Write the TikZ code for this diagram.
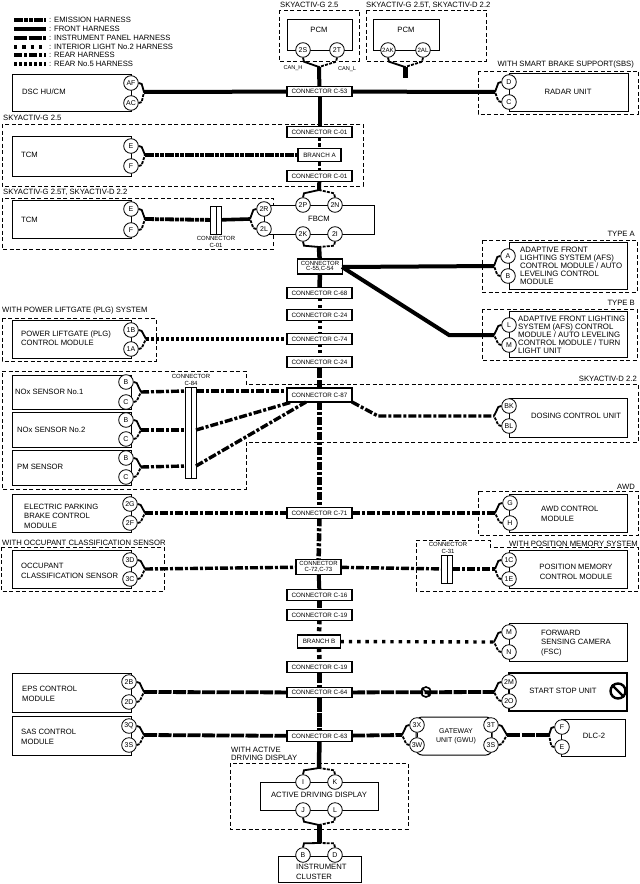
\documentclass[tikz,border=0pt]{standalone}
\usepackage{fontspec}
\setmainfont{Liberation Sans}
\usetikzlibrary{calc}
\newcommand\txtA{\fontsize{7.7}{9.5}\selectfont}
\newcommand\txtB{\fontsize{7.85}{8}\selectfont}
\newcommand\txtC{\fontsize{6.3}{7}\selectfont}
\newcommand\txtP{\fontsize{7}{7}\selectfont}
\newcommand\txtQ{\fontsize{6.2}{7}\selectfont}
\tikzset{
 x=1bp,y=-1bp,
 comp/.style={draw,line width=1bp,fill=white,inner sep=0pt,outer sep=0pt,anchor=north west},
 thickcomp/.style={comp,line width=2.4bp},
 pinnode/.style={circle,draw,line width=.8bp,fill=white,minimum size=14.6bp,inner sep=0pt,font=\txtP},
 smallpin/.style={pinnode,font=\txtQ},
 conn/.style={draw,line width=1.1bp,fill=white,inner sep=0pt,outer sep=0pt,minimum width=65bp,minimum height=10.5bp,font=\txtC,align=center},
 conntwo/.style={conn,minimum width=45bp,minimum height=15bp,font=\fontsize{6}{7}\selectfont},
 branchbox/.style={conn,minimum width=43bp,minimum height=13bp},
 lbl/.style={anchor=west,inner sep=0pt,font=\txtA,align=left},
 clbl/.style={inner sep=0pt,font=\txtA,align=center},
 rlbl/.style={anchor=east,inner sep=0pt,font=\txtA},
 tiny/.style={inner sep=0pt,font=\fontsize{6}{7}\selectfont,align=center},
 optbox/.style={draw,dashed,dash pattern=on 4bp off 2.5bp,line width=.9bp},
 forkA/.style={line width=1.8bp},
 forkB/.style={line width=1.8bp,dash pattern=on 3bp off 1.2bp},
 front/.style={line width=4bp},
 emission/.style={line width=3.8bp,dash pattern=on 9bp off 1bp on 4bp off 1bp on 4bp off 1bp},
 instr/.style={line width=3.8bp,dash pattern=on 13bp off 1.5bp},
 interior/.style={line width=3.4bp,dash pattern=on 3.4bp off 4.9bp},
 rearh/.style={line width=3.4bp,dash pattern=on 8bp off 2bp on 3bp off 2bp},
 rearfive/.style={line width=3.6bp,dash pattern=on 3bp off 2bp},
 thinl/.style={line width=.8bp},
 dconn/.style={draw,line width=.9bp,fill=white,inner sep=0pt,outer sep=0pt},
}
% box: name x1 y1 x2 y2 style
\newcommand\cbox[6][comp]{\node[#1,minimum width={(#5-#3)*1bp},minimum height={(#6-#4)*1bp}] (#2) at (#3,#4) {};}
% double connector: name x y height
\newcommand\dbl[4]{\node[dconn,minimum width=10.5bp,minimum height={#4*1bp}] (#1) at (#2,#3) {};\draw[line width=.9bp] (#1.north) -- (#1.south);}
\newcommand\forkp[7]{\draw[forkA] (#2) -- ++(#4,#5) -- (#1);\draw[forkB] (#3) -- ++(#6,#7) -- (#1);}
\newcommand\forkR[3]{\forkp{#1}{#2.east}{#3.east}{3}{1}{3}{-1}}
\newcommand\forkL[3]{\forkp{#1}{#2.west}{#3.west}{-3}{1}{-3}{-1}}
\newcommand\forkUp[3]{\forkp{#1}{#2.north}{#3.north}{1}{-4}{-1}{-4}}
\newcommand\forkDn[3]{\forkp{#1}{#2.south}{#3.south}{1}{4}{-1}{4}}
\begin{document}
\begin{tikzpicture}
\useasboundingbox (0,0) rectangle (640,884);
% option outlines
\draw[optbox] (279,10) rectangle (359,61);
\draw[optbox] (366,10) rectangle (486,61);
\draw[optbox] (478,71) rectangle (638,114);
\draw[optbox] (2,124) rectangle (363,186);
\draw[optbox] (2,198) rectangle (273,249);
\draw[optbox] (482,240) rectangle (637,292);
\draw[optbox] (482,309) rectangle (637,360);
\draw[optbox] (2,318) rectangle (156,361);
\draw[optbox] (2,371) -- (246,371) -- (246,384) -- (638,384) -- (638,442) -- (246,442) -- (246,489) -- (2,489) -- cycle;
\draw[optbox] (478,491) rectangle (638,535);
\draw[optbox] (1,547) rectangle (164,591);
\draw[optbox] (416,540) -- (490,540) -- (490,547) -- (638,547) -- (638,591) -- (416,591) -- cycle;
\draw[optbox] (230,763) rectangle (408,829);
% option labels
\node[lbl] (o1) at (280,5) {SKYACTIV-G 2.5};
\node[lbl] (o2) at (366,5) {SKYACTIV-G 2.5T, SKYACTIV-D 2.2};
\node[rlbl] (o3) at (634,65) {WITH SMART BRAKE SUPPORT(SBS)};
\node[lbl] (o4) at (3,118) {SKYACTIV-G 2.5};
\node[lbl] (o5) at (3,192) {SKYACTIV-G 2.5T, SKYACTIV-D 2.2};
\node[rlbl] (o6) at (635,234) {TYPE A};
\node[rlbl] (o7) at (635,303) {TYPE B};
\node[lbl] (o8) at (2,311) {WITH POWER LIFTGATE (PLG) SYSTEM};
\node[rlbl] (o9) at (637,379) {SKYACTIV-D 2.2};
\node[rlbl] (o10) at (635,487) {AWD};
\node[lbl] (o11) at (2,543) {WITH OCCUPANT CLASSIFICATION SENSOR};
\node[rlbl] (o12) at (638,544) {WITH POSITION MEMORY SYSTEM};
\node[lbl,font=\fontsize{7.7}{8}\selectfont] (o13) at (231,754) {WITH ACTIVE\\DRIVING DISPLAY};
% legend
\foreach \n/\yy/\st/\tx in {1/20/emission/EMISSION HARNESS,2/29/front/FRONT HARNESS,3/38/instr/INSTRUMENT PANEL HARNESS,4/47/interior/INTERIOR LIGHT No.2 HARNESS,5/55/rearh/REAR HARNESS,6/64/rearfive/REAR No.5 HARNESS}{
 \node[lbl] (leg\n) at (49,\yy) {: \tx};
 \coordinate (legs\n) at (14,\yy);
 \coordinate (lege\n) at (46,\yy);
 \draw[\st] (legs\n) -- (lege\n);
}
% module boxes
\cbox{pcma}{287}{19}{352}{50}
\cbox{pcmb}{373}{19}{439}{50}
\cbox{dsc}{12}{74}{131}{111}
\cbox{radar}{509}{73}{628}{111}
\cbox{tcma}{12}{136}{131}{176}
\cbox{tcmb}{12}{200}{131}{238}
\cbox{fbcm}{264}{205}{374}{234}
\cbox{afsa}{509}{242}{627}{289}
\cbox{afsb}{509}{311}{627}{357}
\cbox{plg}{12}{320}{131}{358}
\cbox{noxa}{12}{375}{131}{409}
\cbox{noxb}{12}{412}{131}{447}
\cbox{pms}{12}{450}{131}{485}
\cbox{dose}{509}{398}{627}{437}
\cbox{epb}{12}{494}{131}{532}
\cbox{awd}{509}{494}{627}{532}
\cbox{occ}{12}{550}{131}{588}
\cbox{posm}{509}{550}{627}{588}
\cbox{fsc}{509}{623}{627}{661}
\cbox[thickcomp]{ssu}{509}{673}{627}{711}
\cbox{eps}{12}{673}{131}{712}
\cbox{sas}{12}{716}{131}{755}
\node[comp,rounded corners=6bp,minimum width=76bp,minimum height=38bp] (gwu) at (416,717) {};
\cbox{dlc}{561}{719}{625}{756}
\cbox{adisp}{260}{782}{378}{810}
\cbox{ipc}{278}{856}{361}{882}
% module texts
\node[clbl] (t1) at (319,30) {PCM};
\node[clbl] (t2) at (406,30) {PCM};
\node[lbl] (t3) at (22,92) {DSC HU/CM};
\node[clbl] (t4) at (568,92) {RADAR UNIT};
\node[lbl] (t5) at (21,155) {TCM};
\node[lbl] (t6) at (21,220) {TCM};
\node[clbl] (t7) at (319,219) {FBCM};
\node[lbl,font=\txtB] (t8) at (520,266) {ADAPTIVE FRONT\\LIGHTING SYSTEM (AFS)\\CONTROL MODULE / AUTO\\LEVELING CONTROL\\MODULE};
\node[lbl,font=\txtB] (t9) at (518,335) {ADAPTIVE FRONT LIGHTING\\SYSTEM (AFS) CONTROL\\MODULE / AUTO LEVELING\\CONTROL MODULE / TURN\\LIGHT UNIT};
\node[lbl] (t10) at (21,338) {POWER LIFTGATE (PLG)\\CONTROL MODULE};
\node[lbl] (t11) at (15,392) {NOx SENSOR No.1};
\node[lbl] (t12) at (17,430) {NOx SENSOR No.2};
\node[lbl] (t13) at (17,467) {PM SENSOR};
\node[clbl] (t14) at (576,416) {DOSING CONTROL UNIT};
\node[lbl] (t15) at (24,516) {ELECTRIC PARKING\\BRAKE CONTROL\\MODULE};
\node[lbl] (t16) at (541,514) {AWD CONTROL\\MODULE};
\node[lbl] (t17) at (21,571) {OCCUPANT\\CLASSIFICATION SENSOR};
\node[clbl] (t18) at (576,572) {POSITION MEMORY\\CONTROL MODULE};
\node[lbl] (t19) at (541,643) {FORWARD\\SENSING CAMERA\\(FSC)};
\node[clbl] (t20) at (563,691) {START STOP UNIT};
\node[lbl] (t21) at (22,694) {EPS CONTROL\\MODULE};
\node[lbl] (t22) at (21,737) {SAS CONTROL\\MODULE};
\node[clbl,font=\fontsize{7}{9}\selectfont] (t23) at (456,736) {GATEWAY\\UNIT (GWU)};
\node[clbl] (t24) at (594,736) {DLC-2};
\node[clbl] (t25) at (319,795) {ACTIVE DRIVING DISPLAY};
\node[lbl] (t26) at (296,872) {INSTRUMENT\\CLUSTER};
\node[tiny,font=\fontsize{5.6}{7}\selectfont] (t27) at (293,68) {CAN\_H};
\node[tiny,font=\fontsize{5.6}{7}\selectfont] (t28) at (347,69) {CAN\_L};
\node[tiny] (t29) at (216,242) {CONNECTOR\\C-01};
\node[tiny] (t30) at (191,380) {CONNECTOR\\C-84};
\node[tiny] (t31) at (448,548) {CONNECTOR\\C-31};
% stop signs
\node[circle,draw,line width=2.4bp,minimum size=15bp,inner sep=0pt] (stopb) at (618,691) {};
\draw[line width=2.4bp] (stopb.north west) -- (stopb.south east);
% connector boxes on the trunk
\node[conn] (c53) at (319.5,91.5) {CONNECTOR C-53};
\node[conn] (c01a) at (319.5,132) {CONNECTOR C-01};
\node[branchbox] (bra) at (319.5,155) {BRANCH A};
\node[conn] (c01b) at (319.5,176) {CONNECTOR C-01};
\node[conntwo] (c55) at (320,266.5) {CONNECTOR\\[-1.5pt]C-55,C-54};
\node[conn] (c68) at (319.5,293) {CONNECTOR C-68};
\node[conn] (c24a) at (319.5,315) {CONNECTOR C-24};
\node[conn] (c74) at (319.5,339) {CONNECTOR C-74};
\node[conn] (c24b) at (319.5,362) {CONNECTOR C-24};
\node[conn,minimum height=14bp] (c87) at (319.5,395) {CONNECTOR C-87};
\node[conn] (c71) at (319.5,513) {CONNECTOR C-71};
\node[conntwo] (c72) at (318.5,567) {CONNECTOR\\[-1.5pt]C-72,C-73};
\node[conn] (c16) at (319.5,595) {CONNECTOR C-16};
\node[conn] (c19a) at (319.5,615) {CONNECTOR C-19};
\node[branchbox] (brb) at (319,641.5) {BRANCH B};
\node[conn] (c19b) at (319.5,667) {CONNECTOR C-19};
\node[conn] (c64) at (319.5,692.5) {CONNECTOR C-64};
\node[conn] (c63) at (319.5,736) {CONNECTOR C-63};
% inline double connectors
\dbl{c01x}{216}{220}{28}
\dbl{c84}{191}{432.5}{91}
\dbl{c31}{447}{569}{28}
% junctions
\coordinate (jpa) at (319,67);
\coordinate (jpb) at (405,67);
\coordinate (jpbe) at (405,78);
\coordinate (jdsc) at (144,92);
\coordinate (jrad) at (495,92);
\coordinate (jta) at (145,155);
\coordinate (jtb) at (145,219);
\coordinate (jtc) at (250,219);
\coordinate (jfa) at (319,190);
\coordinate (jfb) at (319,247);
\coordinate (jafa) at (494,266);
\coordinate (jafb) at (494,335);
\coordinate (bend) at (449,335);
\coordinate (c55r) at (342,267);
\coordinate (jplg) at (146,339);
\coordinate (jna) at (141,392);
\coordinate (jnb) at (141,430);
\coordinate (jnc) at (141,467);
\coordinate (jdos) at (494,416);
\coordinate (dbend) at (378,416);
\coordinate (c84a) at (196,391);
\coordinate (c84b) at (196,430);
\coordinate (c84c) at (196,466);
\coordinate (c87b) at (292,402);
\coordinate (c87c) at (306,402);
\coordinate (c87a) at (287,391);
\coordinate (c87d) at (352,402);
\coordinate (jepb) at (145,513);
\coordinate (jawd) at (495,513);
\coordinate (jocc) at (145,569);
\coordinate (jpos) at (495,569);
\coordinate (jfsc) at (494,642);
\coordinate (jssu) at (494,692);
\coordinate (jeps) at (144,692);
\coordinate (jsas) at (144,735);
\coordinate (jgl) at (402,735);
\coordinate (jgr) at (507,735);
\coordinate (jdlc) at (549,735);
\coordinate (jat) at (319,768);
\coordinate (jab) at (319,825);
\coordinate (jic) at (319,843);
% trunk
\draw[front] (jpa) -- (c53);
\draw[front] (c53) -- (c01a);
\draw[emission,dash pattern=on 4bp off 2bp] (c01a) -- (bra);
\draw[emission,dash pattern=on 4bp off 2bp] (bra) -- (c01b);
\draw[front] (c01b) -- (jfa);
\draw[front,line width=4.5bp] (jfb) -- (c55);
\draw[front,line width=4.5bp] (c55) -- (c68);
\draw[rearfive,line width=4bp,dash pattern=on 3bp off 4bp] (c68) -- (c24a);
\draw[rearfive,line width=4bp,dash pattern=on 3bp off 3bp] (c24a) -- (c74);
\draw[rearfive,line width=4bp,dash pattern=on 3bp off 3bp] (c74) -- (c24b);
\draw[line width=4.5bp,dash pattern=on 11bp off 2bp] (c24b) -- (c87);
\draw[line width=4.5bp,dash pattern=on 8bp off 2bp on 3bp off 2bp] (c87) -- (c71);
\draw[line width=4.5bp,dash pattern=on 8bp off 2bp on 3bp off 2bp] (c71) -- (c72);
\draw[front] (c72) -- (c16);
\draw[line width=4.5bp,dash pattern=on 8bp off 2bp] (c16) -- (c19a);
\draw[line width=4.5bp,dash pattern=on 4bp off 3bp] (c19a) -- (brb);
\draw[line width=4.5bp,dash pattern=on 4bp off 3bp] (brb) -- (c19b);
\draw[line width=4.5bp,dash pattern=on 11bp off 1.5bp] (c19b) -- (c64);
\draw[line width=4.5bp,dash pattern=on 14bp off 1bp] (c64) -- (c63);
\draw[front,line width=4.5bp] (c63) -- (jat);
\draw[line width=5bp] (jab) -- (jic);
\draw[line width=5bp] (jpb) -- (jpbe);
% side wires
\draw[front] (jdsc) -- (c53);
\draw[front] (c53) -- (jrad);
\draw[emission] (jta) -- (bra);
\draw[emission] (jtb) -- (c01x);
\draw[front,line width=3.6bp] (c01x) -- (jtc);
\draw[front] (c55r) -- (jafa);
\draw[front] (c55r) -- (bend) -- (jafb);
\draw[rearfive] (jplg) -- (c74);
\draw[rearh] (jna) -- (c84a -| c84.west);
\draw[rearh] (jnb) -- (c84b -| c84.west);
\draw[rearh] (jnc) -- (c84c -| c84.west);
\draw[rearh] (c84a) -- (c87a);
\draw[rearh] (c84b) -- (c87b);
\draw[rearh] (c84c) -- (c87c);
\draw[rearh] (c87d) -- (dbend) -- (jdos);
\draw[rearh] (jepb) -- (c71);
\draw[rearh] (c71) -- (jawd);
\draw[rearh] (jocc) -- (c72);
\draw[rearh] (c72) -- (c31);
\draw[rearh] (c31) -- (jpos);
\draw[interior] (brb) -- (jfsc);
\draw[instr] (jeps) -- (c64);
\draw[instr] (c64) -- (jssu);
\draw[instr] (jsas) -- (c63);
\draw[instr] (c63) -- (jgl);
\draw[instr] (jgr) -- (jdlc);
% harness stop mark
\node[circle,draw,line width=1.6bp,minimum size=10bp,inner sep=0pt] (stopa) at (426,692) {};
\draw[line width=1.4bp] (stopa.north west) -- (stopa.south east);
% pins
\node[pinnode] (p2s) at (303,50) {2S};
\node[pinnode] (p2t) at (337,50) {2T};
\node[smallpin] (p2ak) at (388,50) {2AK};
\node[smallpin] (p2al) at (423,50) {2AL};
\node[pinnode] (paf) at (131,83) {AF};
\node[pinnode] (pac) at (131,103) {AC};
\node[pinnode] (pd) at (509,82) {D};
\node[pinnode] (pc) at (509,102) {C};
\node[pinnode] (pe1) at (131,146) {E};
\node[pinnode] (pf1) at (131,166) {F};
\node[pinnode] (pe2) at (131,209) {E};
\node[pinnode] (pf2) at (131,230) {F};
\node[pinnode] (p2r) at (264,209) {2R};
\node[pinnode] (p2l) at (264,229) {2L};
\draw[thinl] (p2r) -- (p2l);
\node[pinnode] (p2p) at (303,205) {2P};
\node[pinnode] (p2n) at (335,205) {2N};
\node[pinnode] (p2k) at (303,234) {2K};
\node[pinnode] (p2i) at (335,234) {2I};
\node[pinnode] (pa) at (508,256) {A};
\node[pinnode] (pb) at (508,276) {B};
\node[pinnode] (pl) at (509,325) {L};
\node[pinnode] (pm) at (509,345) {M};
\node[pinnode] (p1b) at (131,330) {1B};
\node[pinnode] (p1a) at (131,349) {1A};
\node[pinnode] (nb1) at (126,382) {B};
\node[pinnode] (nc1) at (126,402) {C};
\node[pinnode] (nb2) at (126,420) {B};
\node[pinnode] (nc2) at (126,439) {C};
\node[pinnode] (nb3) at (126,458) {B};
\node[pinnode] (nc3) at (126,477) {C};
\node[pinnode] (pbk) at (509,406) {BK};
\node[pinnode] (pbl) at (509,426) {BL};
\node[pinnode] (p2g) at (130,504) {2G};
\node[pinnode] (p2f) at (130,523) {2F};
\node[pinnode] (pg) at (510,503) {G};
\node[pinnode] (ph) at (510,523) {H};
\node[pinnode] (p3d) at (130,560) {3D};
\node[pinnode] (p3c) at (130,579) {3C};
\node[pinnode] (p1c) at (509,560) {1C};
\node[pinnode] (p1e) at (509,579) {1E};
\node[pinnode] (pmf) at (509,632) {M};
\node[pinnode] (pnf) at (509,652) {N};
\node[pinnode] (p2m) at (509,682) {2M};
\node[pinnode] (p2o) at (509,701) {2O};
\draw[line width=1.4bp] (p2m) -- (p2o);
\node[pinnode] (p2b) at (129,682) {2B};
\node[pinnode] (p2d) at (129,702) {2D};
\node[pinnode] (p3q) at (129,726) {3Q};
\node[pinnode] (p3s) at (129,745) {3S};
\node[pinnode] (p3x) at (417,725) {3X};
\node[pinnode] (p3w) at (417,745) {3W};
\draw[thinl] (p3x) -- (p3w);
\node[pinnode] (p3t) at (491,725) {3T};
\node[pinnode] (p3ss) at (491,745) {3S};
\draw[thinl] (p3t) -- (p3ss);
\node[pinnode] (pfd) at (562,727) {F};
\node[pinnode] (ped) at (562,747) {E};
\node[pinnode] (pi) at (303,782) {I};
\node[pinnode] (pk) at (335,782) {K};
\node[pinnode] (pj) at (303,810) {J};
\node[pinnode] (pll) at (335,810) {L};
\node[pinnode] (pbi) at (303,855) {B};
\node[pinnode] (pdi) at (335,855) {D};
% forks
\forkDn{jpa}{p2s}{p2t}
\forkDn{jpb}{p2ak}{p2al}
\forkR{jdsc}{paf}{pac}
\forkL{jrad}{pd}{pc}
\forkR{jta}{pe1}{pf1}
\forkR{jtb}{pe2}{pf2}
\forkL{jtc}{p2r}{p2l}
\forkUp{jfa}{p2p}{p2n}
\forkDn{jfb}{p2k}{p2i}
\forkL{jafa}{pa}{pb}
\forkL{jafb}{pl}{pm}
\forkR{jplg}{p1b}{p1a}
\forkR{jna}{nb1}{nc1}
\forkR{jnb}{nb2}{nc2}
\forkR{jnc}{nb3}{nc3}
\forkL{jdos}{pbk}{pbl}
\forkR{jepb}{p2g}{p2f}
\forkL{jawd}{pg}{ph}
\forkR{jocc}{p3d}{p3c}
\forkL{jpos}{p1c}{p1e}
\forkL{jfsc}{pmf}{pnf}
\forkL{jssu}{p2m}{p2o}
\forkR{jeps}{p2b}{p2d}
\forkR{jsas}{p3q}{p3s}
\forkL{jgl}{p3x}{p3w}
\forkR{jgr}{p3t}{p3ss}
\forkL{jdlc}{pfd}{ped}
\forkUp{jat}{pi}{pk}
\forkDn{jab}{pj}{pll}
\forkUp{jic}{pbi}{pdi}
\end{tikzpicture}
\end{document}
